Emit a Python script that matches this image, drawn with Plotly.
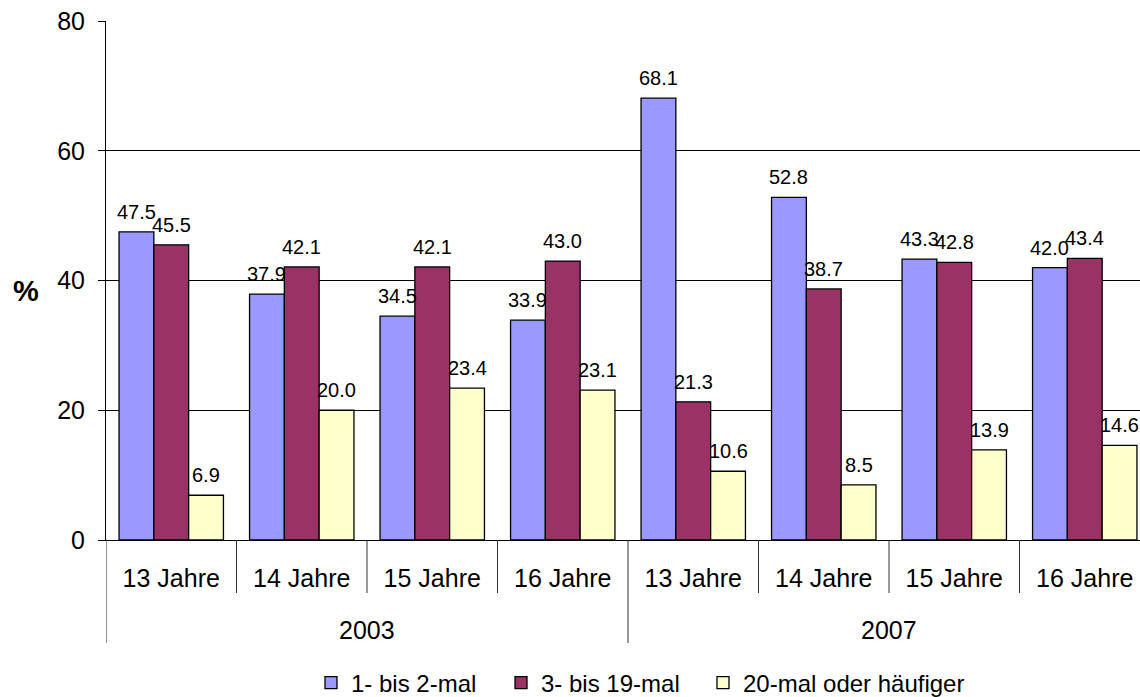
import plotly.graph_objects as go

ages = ["13 Jahre", "14 Jahre", "15 Jahre", "16 Jahre", "13 Jahre", "14 Jahre", "15 Jahre", "16 Jahre"]
years = ["2003", "2007"]
ages_per_year = 4

series_names = ["1- bis 2-mal", "3- bis 19-mal", "20-mal oder häufiger"]
s1 = [47.5, 37.9, 34.5, 33.9, 68.1, 52.8, 43.3, 42.0]
s2 = [45.5, 42.1, 42.1, 43.0, 21.3, 38.7, 42.8, 43.4]
s3 = [6.9, 20.0, 23.4, 23.1, 10.6, 8.5, 13.9, 14.6]
colors = ["#9999FF", "#993366", "#FFFFCC"]

FONT = "Liberation Sans, Arial, sans-serif"
W, H = 1140, 697
M_L, M_R, M_T, M_B = 106, 0, 21, 157
plot_h = H - M_T - M_B
BARGAP = 0.2

pos = list(range(len(ages)))
legend_ids = ["legend", "legend2", "legend3"]
legend_x = [311, 501, 703]  # left edge of each legend entry (px)

all_series = [s1, s2, s3]
n_series = len(all_series)
bar_w = (1 - BARGAP) / n_series

fig = go.Figure()
for k, (name, vals, col, lid) in enumerate(zip(series_names, all_series, colors, legend_ids)):
    fig.add_trace(go.Bar(
        x=pos,
        y=vals,
        name=name,
        legend=lid,
        marker=dict(color=col, line=dict(color="black", width=1.3)),
        cliponaxis=False,
    ))
    # value labels sitting above each bar
    offset = (k - (n_series - 1) / 2) * bar_w
    for i, v in zip(pos, vals):
        fig.add_annotation(
            text=f"{v:.1f}", xref="x", yref="y",
            x=i + offset, y=v, xanchor="center", yanchor="bottom",
            yshift=7, showarrow=False,
            font=dict(family=FONT, size=20, color="black"),
        )

# category separators below the axis: short ones between ages, long ones between years
def px_to_paper(px_below):
    return -px_below / plot_h

for i in range(len(ages)):
    boundary = i - 0.5
    long_line = i % ages_per_year == 0
    fig.add_shape(
        type="line", xref="x", yref="paper",
        x0=boundary, x1=boundary,
        y0=0, y1=px_to_paper(103 if long_line else 53),
        line=dict(color="#333333", width=1),
    )

# year labels centred under each block of ages
for k, yr in enumerate(years):
    center = k * ages_per_year + (ages_per_year - 1) / 2
    fig.add_annotation(
        text=yr, xref="x", yref="paper",
        x=center, y=px_to_paper(90),
        xanchor="center", yanchor="middle", showarrow=False,
        font=dict(family=FONT, size=25, color="black"),
    )

# horizontal "%" label beside the value axis
fig.add_annotation(
    text="<b>%</b>", xref="paper", yref="paper",
    x=0, y=0.48, xanchor="center", yanchor="middle",
    xshift=-80, showarrow=False,
    font=dict(family=FONT, size=29, color="black"),
)

legend_common = dict(
    orientation="h",
    yref="container", y=1 - 683 / H, yanchor="middle",
    xref="container", xanchor="left",
    font=dict(family=FONT, size=24, color="black"),
    itemwidth=30,
    bgcolor="rgba(0,0,0,0)",
)

fig.update_layout(
    width=W,
    height=H,
    margin=dict(l=M_L, r=M_R, t=M_T, b=M_B, autoexpand=False),
    paper_bgcolor="white",
    plot_bgcolor="white",
    barmode="group",
    bargap=BARGAP,
    bargroupgap=0,
    font=dict(family=FONT, size=25, color="black"),
    showlegend=True,
    legend=dict(legend_common, x=legend_x[0] / W),
    legend2=dict(legend_common, x=legend_x[1] / W),
    legend3=dict(legend_common, x=legend_x[2] / W),
    xaxis=dict(
        range=[-0.5, -0.5 + (W - M_L - M_R) / 130.5],
        tickmode="array",
        tickvals=pos,
        ticktext=ages,
        showline=True,
        linecolor="black",
        linewidth=1,
        ticks="",
        ticklabelstandoff=16,
        showgrid=False,
        zeroline=False,
        automargin=False,
        tickfont=dict(family=FONT, size=25, color="black"),
    ),
    yaxis=dict(
        range=[0, 80],
        dtick=20,
        showline=True,
        linecolor="black",
        linewidth=1,
        ticks="outside",
        ticklen=7,
        tickcolor="black",
        ticklabelstandoff=8,
        showgrid=True,
        gridcolor="black",
        gridwidth=1,
        zeroline=False,
        automargin=False,
        tickfont=dict(family=FONT, size=25, color="black"),
    ),
)

fig.write_html("out.html")
